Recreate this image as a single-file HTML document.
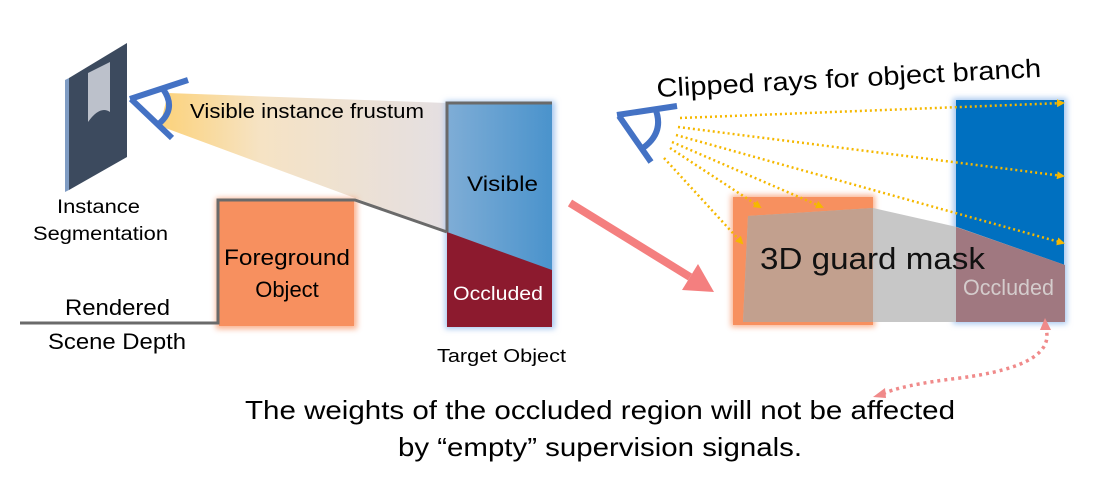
<!DOCTYPE html>
<html><head><meta charset="utf-8"><style>
html,body{margin:0;padding:0;background:#fff;}
svg{display:block;font-family:"Liberation Sans",sans-serif;}
</style></head><body>
<svg width="1097" height="482" viewBox="0 0 1097 482" xmlns="http://www.w3.org/2000/svg">
<defs>
<linearGradient id="fr" x1="0" y1="0" x2="1" y2="0">
<stop offset="0" stop-color="#fcd27a"/><stop offset="0.35" stop-color="#f6e3c4"/><stop offset="1" stop-color="#e4dfe2"/>
</linearGradient>
<linearGradient id="bl" x1="0" y1="0" x2="1" y2="0">
<stop offset="0" stop-color="#7fadd6"/><stop offset="1" stop-color="#4a93cc"/>
</linearGradient>
<filter id="gl" x="-20%" y="-20%" width="140%" height="140%"><feGaussianBlur stdDeviation="3"/></filter>
<marker id="ya" markerWidth="8" markerHeight="8" refX="6" refY="4" orient="auto" markerUnits="userSpaceOnUse"><path d="M0,0 L8,4 L0,8 z" fill="#f5b800"/></marker>
</defs>

<polygon points="168,93 447,103 447,232 160,126" fill="url(#fr)"/>
<polygon points="65,80 69,78 69,190 65,192" fill="#7f9cc3"/>
<polygon points="69,78 127,43 127,157 69,190" fill="#3c4a5e"/>
<path d="M88,73 L110,62 L110,112 Q100,105 88,122 Z" fill="#bcc1cb"/>
<g stroke="#4472c4" stroke-width="6" fill="none">
<line x1="130" y1="99" x2="188" y2="80"/>
<line x1="131" y1="99" x2="172" y2="138"/>
<path d="M163,89 Q178,110 156,126"/>
</g>
<text x="190" y="118" font-size="20" textLength="234" lengthAdjust="spacingAndGlyphs">Visible instance frustum</text>
<text x="57" y="213" font-size="19" textLength="83" lengthAdjust="spacingAndGlyphs">Instance</text>
<text x="33" y="240" font-size="19" textLength="135" lengthAdjust="spacingAndGlyphs">Segmentation</text>

<rect x="216" y="198" width="141" height="131" fill="#f7905f" filter="url(#gl)" opacity="0.7"/>
<rect x="219" y="201" width="135" height="125" fill="#f7905f"/>
<text x="224" y="265" font-size="22" textLength="126" lengthAdjust="spacingAndGlyphs">Foreground</text>
<text x="287" y="297" font-size="22" text-anchor="middle">Object</text>

<rect x="445" y="101" width="110" height="228" fill="#a8c8f0" filter="url(#gl)"/>
<rect x="447" y="103" width="105" height="224" fill="url(#bl)"/>
<polygon points="447,232 552,270 552,327 447,327" fill="#8c1a2e"/>
<text x="467" y="191" font-size="21" textLength="71" lengthAdjust="spacingAndGlyphs">Visible</text>
<text x="453" y="300" font-size="19" fill="#fff" textLength="90" lengthAdjust="spacingAndGlyphs">Occluded</text>
<text x="437" y="362" font-size="18" textLength="129" lengthAdjust="spacingAndGlyphs">Target Object</text>

<polyline points="20,323 218,323 218,200 355,200 447,232" fill="none" stroke="#6a6a6a" stroke-width="3"/>
<polyline points="447,232 447,103 552,103" fill="none" stroke="#6a6a6a" stroke-width="3"/>
<text x="65" y="315" font-size="22" textLength="105" lengthAdjust="spacingAndGlyphs">Rendered</text>
<text x="48" y="349" font-size="22" textLength="138" lengthAdjust="spacingAndGlyphs">Scene Depth</text>

<line x1="570" y1="203" x2="690" y2="277" stroke="#f47f7f" stroke-width="8"/>
<polygon points="714,292 682,290 698,264" fill="#f47f7f"/>

<rect x="953" y="98" width="114" height="226" fill="#a8c8f0" filter="url(#gl)"/>
<rect x="956" y="100" width="108" height="222" fill="#0070c0"/>
<rect x="731" y="195" width="144" height="132" fill="#f7905f" filter="url(#gl)" opacity="0.7"/>
<rect x="733" y="197" width="140" height="128" fill="#f7905f"/>
<polygon points="748,216 873,208 957,227 1065,265 1065,322 743,322" fill="#c4c4c4" opacity="0.95"/>
<polygon points="748,216 873,208 873,322 743,322" fill="#c2a08e"/>
<polygon points="956,227 1065,265 1065,322 956,322" fill="#a07880"/>
<text x="760" y="269" font-size="31" fill="#111" textLength="225" lengthAdjust="spacingAndGlyphs">3D guard mask</text>
<text x="963" y="295" font-size="22" fill="#d4cccc" textLength="91" lengthAdjust="spacingAndGlyphs">Occluded</text>

<g stroke="#4472c4" stroke-width="6" fill="none">
<line x1="617" y1="115" x2="677" y2="106"/>
<line x1="619" y1="116" x2="651" y2="162"/>
<path d="M655,108 Q665,132 643,148"/>
</g>
<text transform="translate(657,97) rotate(-3)" font-size="26" textLength="385" lengthAdjust="spacingAndGlyphs">Clipped rays for object branch</text>

<g stroke="#f5b800" stroke-width="2.5" stroke-dasharray="2,3" fill="none" marker-end="url(#ya)">
<line x1="680" y1="118" x2="1063" y2="103"/>
<line x1="678" y1="127" x2="1063" y2="176"/>
<line x1="676" y1="135" x2="1063" y2="243"/>
<line x1="672" y1="142" x2="822" y2="207"/>
<line x1="670" y1="148" x2="760" y2="207"/>
<line x1="664" y1="158" x2="742" y2="243"/>
</g>

<path d="M1045,326 Q1060,365 960,378 Q900,385 880,395" fill="none" stroke="#f08a8a" stroke-width="3.5" stroke-dasharray="3,4"/>
<polygon points="1045,318 1040,330 1051,330" fill="#f08a8a"/>
<polygon points="873,397 885,388 886,398" fill="#f08a8a"/>

<text x="245" y="419" font-size="26" textLength="710" lengthAdjust="spacingAndGlyphs">The weights of the occluded region will not be affected</text>
<text x="398" y="456" font-size="26" textLength="404" lengthAdjust="spacingAndGlyphs">by “empty” supervision signals.</text>
</svg>
</body></html>
